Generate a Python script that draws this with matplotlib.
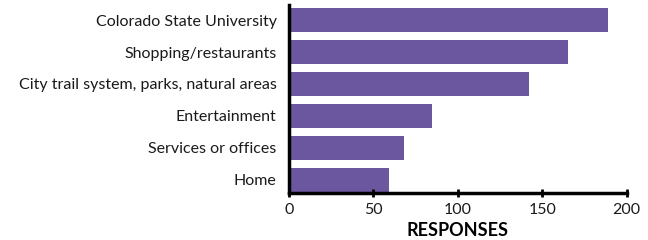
import matplotlib
matplotlib.use("Agg")
import matplotlib.pyplot as plt

categories = ["Colorado State University", "Shopping/restaurants",
              "City trail system, parks, natural areas", "Entertainment",
              "Services or offices", "Home"]
responses = [189, 165, 142, 85, 68, 59]
xticks = [0, 50, 100, 150, 200]

plt.rcParams['font.family'] = ['Lato', 'DejaVu Sans']

fig = plt.figure(figsize=(6.48, 2.4), dpi=100)
ax = fig.add_axes([0.446, 0.195, 0.521, 0.784])

n = len(categories)
pos = list(range(n - 1, -1, -1))
ax.barh(pos, responses, height=0.735, color="#6b57a0")
ax.set_yticks(pos)
ax.set_yticklabels(categories, fontsize=11.5, color="#1a1a1a")
ax.set_ylim(-0.42, n - 1 + 0.47)
ax.set_xlim(0, 200)
ax.set_xticks(xticks)
ax.set_xticklabels([str(t) for t in xticks], fontsize=11.5, color="#1a1a1a")
ax.tick_params(axis='y', length=0, pad=9)
ax.tick_params(axis='x', direction='inout', length=6, width=2, pad=4)
for s in ['top', 'right']:
    ax.spines[s].set_visible(False)
for s in ['left', 'bottom']:
    ax.spines[s].set_linewidth(2.5)
    ax.spines[s].set_color('black')
ax.set_xlabel("RESPONSES", fontsize=13, fontweight='bold', labelpad=4)

fig.savefig("out.png", dpi=100)
